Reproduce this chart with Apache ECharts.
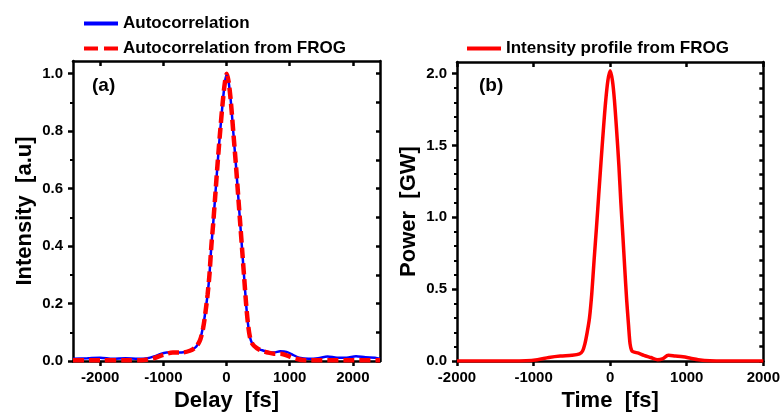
<!DOCTYPE html>
<html><head><meta charset="utf-8">
<script src="https://cdn.jsdelivr.net/npm/echarts@6/dist/echarts.min.js"></script>
<style>html,body{margin:0;padding:0;background:#fff}#c{width:783px;height:417px}</style>
</head><body><div id="c"></div>
<script>
// Panel (a): measured autocorrelation
const acDelay = [-2430,-2200,-2000,-1800,-1600,-1400,-1250,-1100,-950,-800,-650,-550,-480,-420,-370,-330,-300,-270,-240,-210,-180,-140,-100,-60,-25,5,35,70,110,150,190,220,250,280,310,340,370,410,480,560,650,750,850,950,1050,1150,1300,1450,1600,1750,1900,2050,2200,2350,2430];
const acMeasured = [0.008,0.01,0.012,0.008,0.01,0.008,0.01,0.02,0.03,0.03,0.032,0.04,0.05,0.075,0.12,0.18,0.23,0.3,0.4,0.48,0.57,0.69,0.8,0.9,0.97,1.0,0.97,0.9,0.79,0.68,0.56,0.47,0.38,0.29,0.2,0.13,0.085,0.06,0.045,0.038,0.032,0.03,0.034,0.032,0.022,0.012,0.008,0.01,0.016,0.012,0.012,0.017,0.013,0.012,0.008];
// Panel (a): autocorrelation from FROG
const frogDelay = [-2430,-2000,-1600,-1300,-1150,-1000,-850,-700,-580,-490,-420,-370,-330,-300,-270,-240,-210,-180,-140,-100,-60,-25,5,35,70,110,150,190,220,250,280,310,340,370,410,480,560,650,750,850,950,1100,1250,1500,2000,2430];
const acFrog = [0.003,0.003,0.003,0.004,0.01,0.022,0.03,0.03,0.036,0.048,0.072,0.115,0.175,0.23,0.3,0.4,0.48,0.57,0.69,0.8,0.9,0.97,1.0,0.97,0.9,0.79,0.68,0.56,0.47,0.38,0.29,0.2,0.13,0.085,0.06,0.045,0.036,0.03,0.026,0.026,0.02,0.008,0.003,0.003,0.003,0.003];
// Panel (b): intensity profile from FROG
const timeFs = [-2000,-1500,-1100,-950,-800,-650,-500,-400,-360,-330,-300,-270,-240,-210,-180,-150,-120,-90,-60,-30,0,30,55,85,115,140,165,190,215,240,260,280,300,370,440,530,620,680,760,850,950,1050,1150,1300,1500,2000];
const powerGW = [0,0,0.003,0.01,0.025,0.035,0.04,0.05,0.07,0.12,0.2,0.3,0.47,0.7,0.92,1.15,1.38,1.6,1.8,1.95,2.02,1.95,1.82,1.6,1.35,1.1,0.88,0.65,0.43,0.25,0.12,0.075,0.065,0.055,0.04,0.025,0.01,0.015,0.04,0.035,0.03,0.02,0.01,0.002,0,0];

const delayTicks = [-2000,-1000,0,1000,2000];
const intensityTicks = [0,0.2,0.4,0.6,0.8,1.0];
const intensityMinor = [0.1,0.3,0.5,0.7,0.9];
const intensityAll = [0,0.1,0.2,0.3,0.4,0.5,0.6,0.7,0.8,0.9,1.0];
const timeTicks = [-2000,-1000,0,1000,2000];
const powerTicks = [0,0.5,1.0,1.5,2.0];
const powerMinor = [0.1,0.2,0.3,0.4,0.6,0.7,0.8,0.9,1.1,1.2,1.3,1.4,1.6,1.7,1.8,1.9];
const powerAll = [0,0.1,0.2,0.3,0.4,0.5,0.6,0.7,0.8,0.9,1.0,1.1,1.2,1.3,1.4,1.5,1.6,1.7,1.8,1.9,2.0];

const FONT = "'Liberation Sans', Arial, sans-serif";
const AX = {lineStyle:{color:'#000', width:2.5}};
const lbl = (show, extra) => Object.assign({show, color:'#000', fontFamily:FONT, fontWeight:'bold', fontSize:15}, extra||{});
const nameStyle = {color:'#000', fontFamily:FONT, fontWeight:'bold', fontSize:22};

function panelAxes(gi, xmin, xmax, xt, ymin, ymax, yt, ymin2, yAllRight, xName, yName) {
  const xs = [
    {type:'value', gridIndex:gi, position:'bottom', min:xmin, max:xmax,
     axisLine:{show:true, onZero:false, ...AX}, splitLine:{show:false},
     axisTick:{show:true, inside:false, length:5, customValues:xt, lineStyle:{color:'#000', width:2.5}},
     axisLabel:lbl(true,{customValues:xt, margin:9, formatter:v=>String(v)}),
     name:xName, nameLocation:'middle', nameGap:25, nameTextStyle:nameStyle},
    {type:'value', gridIndex:gi, position:'top', min:xmin, max:xmax,
     axisLine:{show:true, onZero:false, ...AX}, splitLine:{show:false},
     axisTick:{show:true, inside:true, length:5, customValues:xt, lineStyle:{color:'#000', width:2.5}},
     axisLabel:{show:false}}
  ];
  const ys = [
    {type:'value', gridIndex:gi, position:'left', min:ymin, max:ymax,
     axisLine:{show:true, onZero:false, ...AX}, splitLine:{show:false},
     axisTick:{show:true, inside:false, length:5, customValues:yt, lineStyle:{color:'#000', width:2.5}},
     axisLabel:lbl(true,{customValues:yt, margin:10, formatter:v=>v.toFixed(1)}),
     name:yName, nameLocation:'middle', nameGap:37, nameTextStyle:nameStyle},
    {type:'value', gridIndex:gi, position:'left', min:ymin, max:ymax,
     axisLine:{show:false, onZero:false}, splitLine:{show:false},
     axisTick:{show:true, inside:false, length:3, customValues:ymin2, lineStyle:{color:'#000', width:2}},
     axisLabel:{show:false}},
    {type:'value', gridIndex:gi, position:'right', min:ymin, max:ymax,
     axisLine:{show:true, onZero:false, ...AX}, splitLine:{show:false},
     axisTick:{show:true, inside:true, length:4, customValues:yAllRight, lineStyle:{color:'#000', width:2.5}},
     axisLabel:{show:false}}
  ];
  return {xs, ys};
}

const A = panelAxes(0, -2430, 2430, delayTicks, 0, 1.044, intensityTicks, intensityMinor, intensityAll, 'Delay  [fs]', 'Intensity  [a.u]');
const B = panelAxes(1, -2000, 2000, timeTicks, 0, 2.08, powerTicks, powerMinor, powerAll, 'Time  [fs]', 'Power  [GW]');

const zip = (xs, ys) => xs.map((x,i)=>[x, ys[i]]);
const SOLID_ICON = 'path://M0,0h34v4h-34z';
const DASH_ICON = 'path://M0,0h14v4h-14zM20,0h14v4h-14z';
const legendText = {color:'#000', fontFamily:FONT, fontWeight:'bold', fontSize:17};

const chart = echarts.init(document.getElementById('c'), null, {renderer:'canvas'});
chart.setOption({
  backgroundColor:'#fff',
  animation:false,
  grid:[
    {left:73, right:403, top:61, bottom:49},
    {left:457, right:18, top:62, bottom:49}
  ],
  xAxis:[...A.xs, ...B.xs],
  yAxis:[...A.ys, ...B.ys],
  legend:[
    {orient:'vertical', left:79, top:10, itemWidth:34, itemHeight:4, itemGap:8,
     data:[{name:'Autocorrelation', icon:SOLID_ICON},{name:'Autocorrelation from FROG', icon:DASH_ICON}],
     textStyle:legendText},
    {orient:'vertical', left:462, top:35, itemWidth:34, itemHeight:4,
     data:[{name:'Intensity profile from FROG', icon:SOLID_ICON}],
     textStyle:legendText}
  ],
  graphic:[
    {type:'text', left:92, top:76, style:{text:'(a)', fill:'#000', font:"bold 19px 'Liberation Sans', Arial"}},
    {type:'text', left:479, top:76, style:{text:'(b)', fill:'#000', font:"bold 19px 'Liberation Sans', Arial"}}
  ],
  series:[
    {name:'Autocorrelation', type:'line', xAxisIndex:0, yAxisIndex:0, data:zip(acDelay, acMeasured),
     showSymbol:false, symbol:'none', smooth:0.3, lineStyle:{color:'#0000ff', width:2.5}, itemStyle:{color:'#0000ff'}, z:2},
    {name:'Autocorrelation from FROG', type:'line', xAxisIndex:0, yAxisIndex:0, data:zip(frogDelay, acFrog),
     showSymbol:false, symbol:'none', smooth:0.3, lineStyle:{color:'#ff0000', width:4.5, type:[11,5]}, itemStyle:{color:'#ff0000'}, z:3},
    {name:'Intensity profile from FROG', type:'line', xAxisIndex:2, yAxisIndex:3, data:zip(timeFs, powerGW),
     showSymbol:false, symbol:'none', smooth:0.3, lineStyle:{color:'#ff0000', width:3.5}, itemStyle:{color:'#ff0000'}, z:3}
  ]
});
</script></body></html>
